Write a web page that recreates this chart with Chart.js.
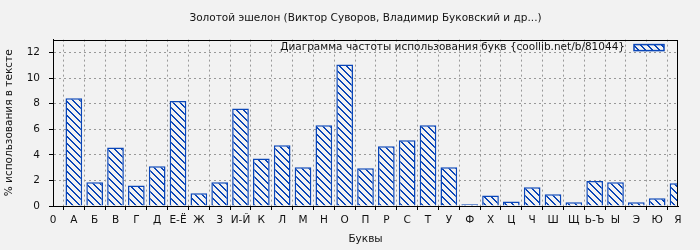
<!DOCTYPE html>
<html>
<head>
<meta charset="utf-8">
<script src="https://cdn.jsdelivr.net/npm/chart.js@4"></script>
<style>
  html, body { margin: 0; padding: 0; background: #f2f2f2; }
  #wrap { width: 700px; height: 250px; }
</style>
</head>
<body>
<div id="wrap"><canvas id="myChart" width="700" height="250"></canvas></div>
<script>
// буквы (первая позиция "0" пустая, как в оригинале)
const letters = ['0', 'А', 'Б', 'В', 'Г', 'Д', 'Е-Ё', 'Ж', 'З', 'И-Й', 'К', 'Л', 'М', 'Н', 'О',
  'П', 'Р', 'С', 'Т', 'У', 'Ф', 'Х', 'Ц', 'Ч', 'Ш', 'Щ', 'Ь-Ъ', 'Ы', 'Э', 'Ю', 'Я'];
const percents = [null, 8.41, 1.85, 4.58, 1.61, 3.10, 8.20, 0.99, 1.85, 7.62, 3.72, 4.74, 3.02, 6.30, 11.06,
  2.94, 4.66, 5.13, 6.30, 3.02, 0.13, 0.83, 0.36, 1.46, 0.91, 0.29, 1.95, 1.85, 0.29, 0.60, 1.77];
const yTicks = [0, 2, 4, 6, 8, 10, 12];

const titleText = 'Золотой эшелон (Виктор Суворов, Владимир Буковский и др...)';
const legendText = 'Диаграмма частоты использования букв {coollib.net/b/81044}';

const blue = '#0a46b8';
const bg = '#f2f2f2';
const font = 'DejaVu Sans';

const ctx = document.getElementById('myChart').getContext('2d');

// штриховка "\\\" для столбиков (пиксельная диагональ, без сглаживания)
function hatch() {
  const s = 7;
  const c = document.createElement('canvas');
  c.width = s; c.height = s;
  const g = c.getContext('2d');
  g.fillStyle = bg;
  g.fillRect(0, 0, s, s);
  g.fillStyle = blue;
  for (let i = 0; i < s; i++) {
    g.fillRect(i, i, 1, 1);
    g.fillRect((i + 1) % s, i, 1, 1);
  }
  return ctx.createPattern(c, 'repeat');
}

// заголовок по центру области графика, рамка и легенда внутри
const extras = {
  id: 'extras',
  afterLayout(chart) {
    const t = chart.titleBlock;
    t.left = chart.chartArea.left;
    t.right = chart.chartArea.right;
    t.width = t.right - t.left;
  },
  afterDatasetsDraw(chart) {
    const a = chart.chartArea;
    const c = chart.ctx;
    const ds = chart.data.datasets[0];
    c.save();
    c.strokeStyle = '#000';
    c.lineWidth = 1;
    c.strokeRect(Math.round(a.left) + 0.5, Math.round(a.top) + 0.5,
      Math.round(a.right - a.left) - 1, Math.round(a.bottom - a.top));
    // легенда
    const bx = a.right - 44, by = a.top + 5;
    c.fillStyle = ds.backgroundColor;
    c.fillRect(bx, by, 30, 6);
    c.strokeStyle = ds.borderColor;
    c.lineWidth = 1.5;
    c.strokeRect(bx, by, 30, 6);
    c.fillStyle = '#111';
    c.font = '10.5px "' + font + '"';
    c.textAlign = 'right';
    c.textBaseline = 'middle';
    c.fillText(ds.label, bx - 9, by + 3);
    c.restore();
  }
};

new Chart(ctx, {
  type: 'bar',
  data: {
    labels: letters,
    datasets: [{
      label: legendText,
      data: percents,
      backgroundColor: hatch(),
      borderColor: blue,
      borderWidth: 1.5,
      barPercentage: 0.8,
      categoryPercentage: 1,
      clip: 0
    }]
  },
  options: {
    responsive: false,
    animation: false,
    layout: { padding: { left: 0, right: 22, top: 0, bottom: 0 } },
    plugins: {
      title: {
        display: true,
        text: titleText,
        color: '#111',
        font: { family: font, size: 10.5, weight: 'normal' },
        padding: { top: 12, bottom: 15 }
      },
      legend: { display: false },
      tooltip: { enabled: false }
    },
    scales: {
      x: {
        offset: false,
        afterFit: s => { s.height = 44; },
        grid: {
          color: '#999',
          tickColor: '#000',
          tickLength: 4,
          tickBorderDash: [],
          lineWidth: 1
        },
        border: { color: '#000', dash: [2, 3] },
        ticks: {
          color: '#111',
          font: { family: font, size: 10.5 },
          padding: 4,
          maxRotation: 0,
          autoSkip: false
        },
        title: {
          display: true,
          text: 'Буквы',
          color: '#111',
          font: { family: font, size: 10.5 },
          padding: { top: 0, bottom: 4 }
        }
      },
      y: {
        min: 0,
        max: 13,
        afterFit: s => { s.width = 53; },
        afterBuildTicks: s => { s.ticks = yTicks.map(v => ({ value: v })); },
        grid: {
          color: '#999',
          tickColor: '#000',
          tickLength: 4,
          tickBorderDash: [],
          lineWidth: 1
        },
        border: { color: '#000', dash: [2, 3] },
        ticks: {
          color: '#111',
          font: { family: font, size: 10.5 },
          padding: 9
        },
        title: {
          display: true,
          text: '% использования в тексте',
          color: '#111',
          font: { family: font, size: 10.5 },
          padding: { top: 3, bottom: 0 }
        }
      }
    }
  },
  plugins: [extras]
});
</script>
</body>
</html>
